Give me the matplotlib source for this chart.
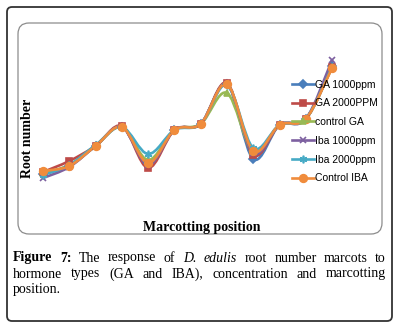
import matplotlib
matplotlib.use("Agg")
import matplotlib.pyplot as plt
from matplotlib.lines import Line2D
from matplotlib.patches import FancyBboxPatch, PathPatch
from matplotlib.path import Path

positions = list(range(1, 13))
ga_1000 = [1.1, 1.9, 3.9, 5.8, 2.2, 5.5, 6.1, 10.1, 2.6, 6.0, 6.6, 11.9]
ga_2000 = [1.3, 2.4, 3.9, 5.9, 1.7, 5.5, 6.1, 10.2, 3.0, 6.0, 6.6, 11.8]
control_ga = [1.2, 2.0, 3.9, 5.8, 2.5, 5.5, 6.1, 9.2, 3.3, 6.0, 6.6, 11.8]
iba_1000 = [0.7, 1.8, 3.9, 5.8, 2.0, 5.5, 6.1, 10.1, 3.2, 6.0, 6.6, 12.5]
iba_2000 = [1.0, 2.0, 4.0, 5.8, 3.1, 5.5, 6.1, 10.0, 3.7, 6.0, 6.6, 11.8]
control_iba = [1.4, 1.9, 3.9, 5.8, 2.2, 5.5, 6.1, 10.1, 3.4, 6.0, 6.6, 11.7]

series = [
    ("GA 1000ppm", ga_1000, "#4a7ebb", "D", 4.0),
    ("GA 2000PPM", ga_2000, "#be4b48", "s", 5.0),
    ("control GA", control_ga, "#98b954", "^", 5.0),
    ("Iba 1000ppm", iba_1000, "#7d60a0", "x", 5.0),
    ("Iba 2000ppm", iba_2000, "#46aac5", (6, 2, 0), 5.5),
    ("Control IBA", control_iba, "#f08c3c", "o", 5.5),
]


def smooth_path(xs, ys):
    # Catmull-Rom style bezier, like Excel's smoothed line
    pts = list(zip(xs, ys))
    verts = [pts[0]]
    codes = [Path.MOVETO]
    n = len(pts)
    for i in range(n - 1):
        p0 = pts[i - 1] if i > 0 else pts[i]
        p1 = pts[i]
        p2 = pts[i + 1]
        p3 = pts[i + 2] if i + 2 < n else pts[i + 1]
        c1 = (p1[0] + (p2[0] - p0[0]) / 6, p1[1] + (p2[1] - p0[1]) / 6)
        c2 = (p2[0] - (p3[0] - p1[0]) / 6, p2[1] - (p3[1] - p1[1]) / 6)
        verts += [c1, c2, p2]
        codes += [Path.CURVE4] * 3
    return Path(verts, codes)


W, H = 397, 325
fig = plt.figure(figsize=(W / 100, H / 100), dpi=100)

bg = fig.add_axes([0, 0, 1, 1])
bg.set_xlim(0, W)
bg.set_ylim(H, 0)
bg.axis("off")
bg.add_patch(FancyBboxPatch((7, 7), 385, 314, boxstyle="round,pad=0,rounding_size=5",
                            fill=False, edgecolor="#333333", linewidth=1.3))
bg.add_patch(FancyBboxPatch((18, 23), 364, 211, boxstyle="round,pad=0,rounding_size=11",
                            fill=False, edgecolor="#8c8c8c", linewidth=0.9))

# plot area, positions in pixels
left, right, top, bottom = 29.9, 345.2, 45, 185
ax = fig.add_axes([left / W, 1 - bottom / H, (right - left) / W, (bottom - top) / H])
ax.patch.set_alpha(0)
ax.set_xlim(0.5, 12.5)
ax.set_ylim(0, 14)
ax.axis("off")

handles = []
for label, values, color, marker, ms in series:
    ax.add_patch(PathPatch(smooth_path(positions, values), fill=False,
                           edgecolor=color, linewidth=1.9, capstyle="round"))
    ax.plot(positions, values, linestyle="none", marker=marker, markersize=ms,
            color=color, markeredgecolor=color, markeredgewidth=1.2)
    handles.append(Line2D([], [], color=color, linewidth=1.9, marker=marker,
                          markersize=ms, markeredgewidth=1.2))

fig.legend(handles, [s[0] for s in series], loc="upper left",
           bbox_to_anchor=(292 / W, 1 - 79.5 / H), frameon=False,
           prop={"family": "Liberation Sans", "size": 7.5},
           handlelength=2.1, handletextpad=0.1, labelspacing=0.84,
           borderaxespad=0, borderpad=0)

bg.text(28, 138, "Root number", rotation=90, ha="center", va="center",
        family="Liberation Serif", fontweight="bold", fontsize=10)
bg.text(202, 228, "Marcotting position", ha="center", va="center",
        family="Liberation Serif", fontweight="bold", fontsize=10)

# justified caption
caption_lines = [
    [("Figure", "bold"), ("7:", "bold"), ("The", ""), ("response", ""), ("of", ""),
     ("D.", "italic"), ("edulis", "italic"), ("root", ""), ("number", ""),
     ("marcots", ""), ("to", "")],
    [("hormone", ""), ("types", ""), ("(GA", ""), ("and", ""), ("IBA),", ""),
     ("concentration", ""), ("and", ""), ("marcotting", "")],
    [("position.", "")],
]
baselines = [261.5, 277.5, 293.5]
x0, x1 = 13, 386
renderer = fig.canvas.get_renderer()
for words, yb in zip(caption_lines, baselines):
    texts = []
    for word, style in words:
        t = bg.text(0, yb, word, ha="left", va="baseline", family="Liberation Serif",
                    fontsize=10, fontweight="bold" if style == "bold" else "normal",
                    fontstyle="italic" if style == "italic" else "normal")
        texts.append(t)
    widths = [t.get_window_extent(renderer).width for t in texts]
    if len(texts) > 1 and yb != baselines[-1]:
        gap = (x1 - x0 - sum(widths)) / (len(texts) - 1)
    else:
        gap = 3
    x = x0
    for t, w in zip(texts, widths):
        t.set_x(x)
        x += w + gap

fig.savefig("out.png", dpi=100)
